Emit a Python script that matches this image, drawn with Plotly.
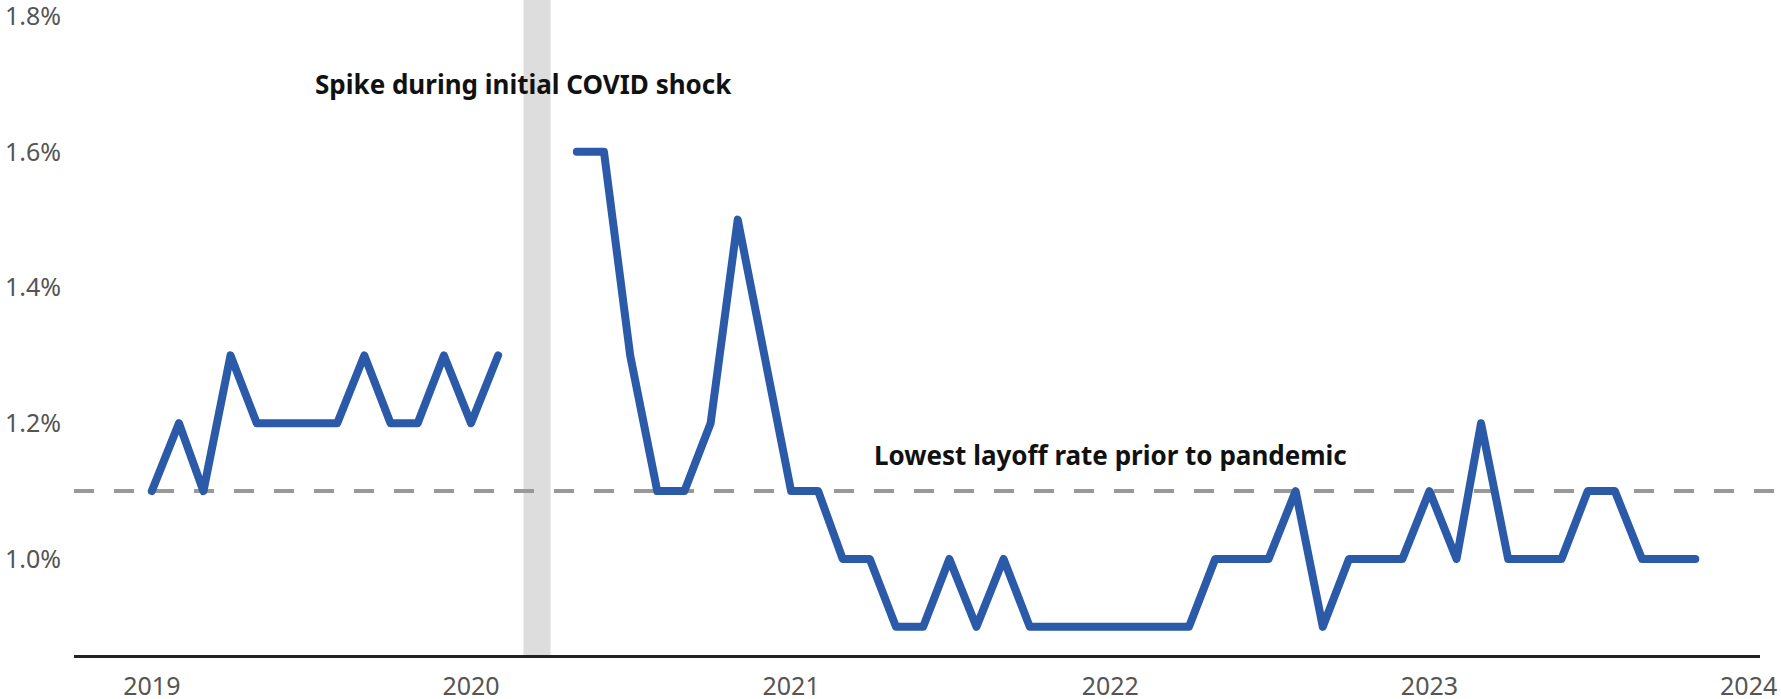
import plotly.graph_objects as go
import pandas as pd

months = pd.date_range("2019-01-01", "2023-11-01", freq="MS")
rate_2019 = [1.1, 1.2, 1.1, 1.3, 1.2, 1.2, 1.2, 1.2, 1.3, 1.2, 1.2, 1.3]
rate_2020 = [1.2, 1.3, None, None, 1.6, 1.6, 1.3, 1.1, 1.1, 1.2, 1.5, 1.3]
rate_2021 = [1.1, 1.1, 1.0, 1.0, 0.9, 0.9, 1.0, 0.9, 1.0, 0.9, 0.9, 0.9]
rate_2022 = [0.9, 0.9, 0.9, 0.9, 1.0, 1.0, 1.0, 1.1, 0.9, 1.0, 1.0, 1.0]
rate_2023 = [1.1, 1.0, 1.2, 1.0, 1.0, 1.0, 1.1, 1.1, 1.0, 1.0, 1.0]
layoff_rate = rate_2019 + rate_2020 + rate_2021 + rate_2022 + rate_2023

prepandemic_low = 1.1
covid_start, covid_end = "2020-03-01", "2020-04-01"
y_ticks = [1.0, 1.2, 1.4, 1.6, 1.8]
y_labels = ["1.0%", "1.2%", "1.4%", "1.6%", "1.8%"]
x_ticks = ["2019-01-01", "2020-01-01", "2021-01-01", "2022-01-01", "2023-01-01", "2024-01-01"]
x_labels = ["2019", "2020", "2021", "2022", "2023", "2024"]

fig = go.Figure()
fig.add_trace(go.Scatter(
    x=months, y=layoff_rate, mode="lines",
    line=dict(color="#2a5aa8", width=8),
    connectgaps=False, hoverinfo="skip", showlegend=False,
))

fig.add_shape(type="rect", xref="x", yref="paper", x0=covid_start, x1=covid_end,
              y0=0, y1=1, fillcolor="#dddddd", line_width=0, layer="below")
fig.add_shape(type="line", xref="paper", yref="y", x0=0, x1=1.01,
              y0=prepandemic_low, y1=prepandemic_low,
              line=dict(color="#999999", width=4, dash="20px,20px"), layer="below")

ann_font = dict(family="Noto Sans", size=26, color="#111111")
fig.add_annotation(x="2020-03-01", y=1.70, text="<b>Spike during initial COVID shock</b>",
                   showarrow=False, xanchor="center", yanchor="middle", font=ann_font)
fig.add_annotation(x="2022-01-01", y=1.153, text="<b>Lowest layoff rate prior to pandemic</b>",
                   showarrow=False, xanchor="center", yanchor="middle", font=ann_font)

fig.update_layout(
    width=1781, height=699,
    margin=dict(l=74, r=21, t=0, b=44, autoexpand=False),
    plot_bgcolor="white", paper_bgcolor="white",
    font=dict(family="Noto Sans", size=25, color="#555555"),
)
fig.update_xaxes(
    range=["2018-10-04", "2024-01-14"], tickvals=x_ticks, ticktext=x_labels,
    showgrid=False, zeroline=False, showline=True, linecolor="#222222", linewidth=2.5,
    ticks="", automargin=False, ticklabeloverflow="allow", ticklabelstandoff=7,
)
fig.update_yaxes(
    range=[0.8585, 1.8236], tickvals=y_ticks, ticktext=y_labels,
    showgrid=False, zeroline=False, showline=False, ticks="", automargin=False,
    ticklabeloverflow="allow", ticklabelstandoff=12,
)

post = (
    "document.body.style.margin='0px';document.body.style.overflow='hidden';"
    "document.querySelectorAll('.scatterlayer path.js-line').forEach(function(p){"
    "p.style.strokeLinejoin='round';p.style.strokeLinecap='round';});"
)
fig.write_html("out.html", config={"displayModeBar": False}, post_script=post)
